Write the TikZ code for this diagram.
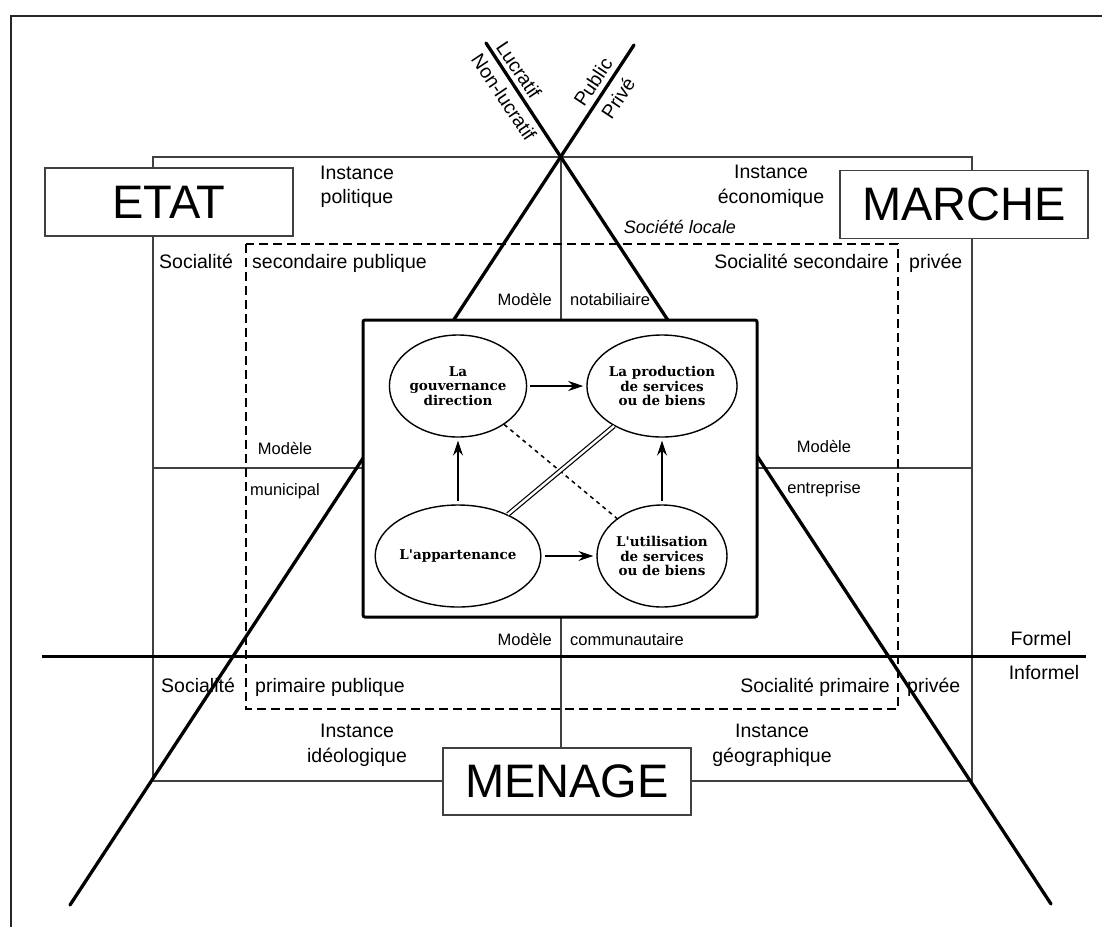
\documentclass[tikz,border=0pt]{standalone}
\usepackage{fontspec}
\setmainfont{Liberation Sans}
\newfontfamily\ellfont{DejaVu Serif}
\usetikzlibrary{shapes.geometric,arrows.meta}
\begin{document}
\begin{tikzpicture}[x=1pt,y=-1pt,
  heavy/.style={line width=3.3pt, line cap=round},
  fine/.style={line width=1.3pt, draw=black!75},
  bigbox/.style={draw=black!75, line width=1.4pt, fill=white, minimum width=248pt, minimum height=68pt, inner sep=0pt, font=\fontsize{47}{50}\selectfont},
  lbl/.style={inner sep=0pt, font=\fontsize{19.5}{23}\selectfont},
  mlbl/.style={inner sep=0pt, font=\fontsize{16.5}{19}\selectfont},
  ell/.style={ellipse, draw, line width=1.4pt, fill=white, minimum width=130pt, minimum height=102pt, inner sep=0pt, align=center, font=\ellfont\bfseries\fontsize{13.5}{14.7}\selectfont},
  arr/.style={-{Stealth[length=15pt,width=10pt,inset=5pt]}, line width=1.2pt, shorten >=3pt, shorten <=3pt},
]
\useasboundingbox (0,0) rectangle (1102,926);
\fill[white] (0,0) rectangle (1102,926);
% outer frame
\draw[line width=2pt, black!85] (11,930) -- (11,15.5) -- (1106,15.5);
% thin rectangle and dividers
\draw[fine] (153,157) rectangle (972,781);
\draw[fine] (153,468) -- (972,468);
\coordinate (cross) at (561,156);
\coordinate (menTop) at (561,748);
\draw[fine] (cross) -- (menTop);
% dashed box
\draw[line width=2.2pt, dash pattern=on 9pt off 5pt] (246,244) rectangle (898,709);
% labels
\node[lbl, anchor=base] (ip1) at (357,179) {Instance};
\node[lbl, anchor=base] (ip2) at (357,203) {politique};
\node[lbl, anchor=base] (ie1) at (771,178) {Instance};
\node[lbl, anchor=base] (ie2) at (771,203) {économique};
\node[lbl, anchor=base west] (soc1) at (159,268) {Socialité};
\node[lbl, anchor=base west] (sp1) at (252,268) {secondaire publique};
\node[lbl, anchor=base east] (soc2) at (889,268) {Socialité secondaire};
\node[lbl, anchor=base west] (pv1) at (909,268) {privée};
\node[lbl, anchor=base west] (soc3) at (161,692) {Socialité};
\node[lbl, anchor=base west] (pp) at (255,692) {primaire publique};
\node[lbl, anchor=base east] (soc4) at (890,692) {Socialité primaire};
\node[lbl, anchor=base west] (pv2) at (907,692) {privée};
\node[lbl, anchor=base] (ii1) at (357,737) {Instance};
\node[lbl, anchor=base] (ii2) at (357,762) {idéologique};
\node[lbl, anchor=base] (ig1) at (772,737) {Instance};
\node[lbl, anchor=base] (ig2) at (772,762) {géographique};
\node[lbl, anchor=base] (formel) at (1041,645) {Formel};
\node[lbl, anchor=base] (informel) at (1044,679) {Informel};
\node[inner sep=0pt, anchor=base, font=\itshape\fontsize{18}{21}\selectfont] (societe) at (680,233) {Société locale};
\node[mlbl, anchor=base east] (mn1) at (552,305) {Modèle};
\node[mlbl, anchor=base west] (mn2) at (570,305) {notabiliaire};
\node[mlbl, anchor=base] (mm1) at (285,454) {Modèle};
\node[mlbl, anchor=base] (mm2) at (285,495) {municipal};
\node[mlbl, anchor=base] (me1) at (824,452) {Modèle};
\node[mlbl, anchor=base] (me2) at (824,493) {entreprise};
\node[mlbl, anchor=base east] (mc1) at (552,645) {Modèle};
\node[mlbl, anchor=base west] (mc2) at (570,645) {communautaire};
% rotated labels
\node[lbl, rotate=-56.2] (luc) at (519,70) {Lucratif};
\node[lbl, rotate=-56.2] (nluc) at (504,97) {Non-lucratif};
\node[lbl, rotate=56.4] (pub) at (593,82) {Public};
\node[lbl, rotate=56.4] (priv) at (618,98) {Privé};
% heavy lines
\coordinate (lucA) at (486,43);
\coordinate (lucB) at (1051,904);
\coordinate (pubA) at (634,45);
\coordinate (pubB) at (70,905);
\coordinate (forA) at (42,656);
\coordinate (forB) at (1086,656);
\draw[heavy] (lucA) -- (lucB);
\draw[heavy] (pubA) -- (pubB);
\draw[line width=3pt] (forA) -- (forB);
% central box
\node[draw, line width=3pt, fill=white, minimum width=394pt, minimum height=297pt, rounded corners=2pt, inner sep=0pt] (core) at (560,468.5) {};
\node[ell] (gouv) at (458,386) {La\\gouvernance\\direction};
\node[ell] (prod) at (662,386) {La production\\de services\\ou de biens};
\node[ell] (app) at (458,556) {L'appartenance};
\node[ell] (util) at (662,556) {L'utilisation\\de services\\ou de biens};
\draw[arr] (gouv) -- (prod);
\draw[arr] (app) -- (util);
\draw[arr] (app) -- (gouv);
\draw[arr] (util) -- (prod);
\draw[line width=1.5pt, dash pattern=on 4pt off 4pt] (gouv) -- (util);
\draw[double, double distance=2.4pt, line width=1.2pt] (app) -- (prod);
% big boxes
\node[bigbox] (etat) at (169,202) {ETAT};
\node[bigbox] (marche) at (964,204.5) {MARCHE};
\node[bigbox, minimum height=67pt] (menage) at (567,781.5) {MENAGE};
\end{tikzpicture}
\end{document}
